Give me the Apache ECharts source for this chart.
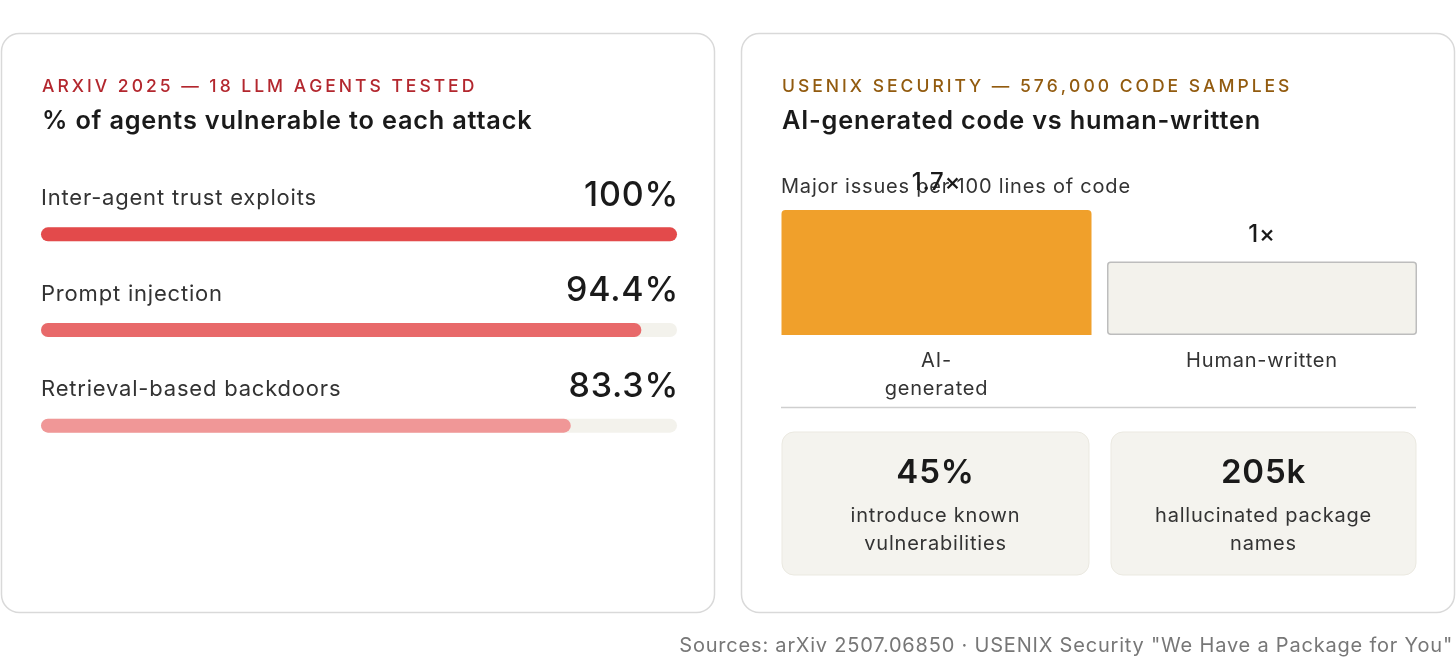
<!DOCTYPE html>
<html>
<head>
<meta charset="utf-8">
<script src="https://cdn.jsdelivr.net/npm/echarts@6/dist/echarts.min.js"></script>
<style>
html,body{margin:0;padding:0;background:#fff;}
#c{width:1456px;height:659px;}
</style>
</head>
<body>
<div id="c"></div>
<script>
// ---------- data ----------
const leftKicker = 'ARXIV 2025 — 18 LLM AGENTS TESTED';
const leftTitle = '% of agents vulnerable to each attack';
const attackNames = ['Inter-agent trust exploits', 'Prompt injection', 'Retrieval-based backdoors'];
const attackValues = [100, 94.4, 83.3];
const attackColors = ['#e34a4b', '#e8696a', '#f09797'];

const rightKicker = 'USENIX SECURITY — 576,000 CODE SAMPLES';
const rightTitle = 'AI-generated code vs human-written';
const rightSubtitle = 'Major issues per 100 lines of code';
const codeCategories = ['AI-generated', 'Human-written'];
const codeValues = [1.7, 1];

const statValues = ['45%', '205k'];
const statLabels = ['introduce known\nvulnerabilities', 'hallucinated package\nnames'];

const sourcesText = 'Sources: arXiv 2507.06850 · USENIX Security "We Have a Package for You"';

// ---------- helpers ----------
const FONT = 'Inter, "Noto Sans", sans-serif';
// slight tracking for all canvas text (system-font look)
(function () {
  const P = CanvasRenderingContext2D.prototype;
  const f = P.fillText;
  P.fillText = function () { try { this.letterSpacing = '0.8px'; } catch (e) {} return f.apply(this, arguments); };
})();
const mctx = document.createElement('canvas').getContext('2d');
function spacedText(text, x, y, size, weight, color, spacing) {
  const font = weight + ' ' + size + 'px ' + FONT;
  mctx.font = font;
  const children = [];
  let cx = x;
  for (const ch of text) {
    children.push({type: 'text', x: cx, y: y, style: {text: ch, font: font, fill: color, textVerticalAlign: 'middle'}});
    cx += mctx.measureText(ch).width + spacing;
  }
  return {type: 'group', children: children};
}

const chart = echarts.init(document.getElementById('c'), null, {renderer: 'canvas'});

const graphics = [
  {type: 'rect', shape: {x: 1.5, y: 33.5, width: 713, height: 579, r: 18}, style: {fill: '#fff', stroke: '#d9d9d9', lineWidth: 1.5}, z: -10},
  {type: 'rect', shape: {x: 741.5, y: 33.5, width: 713, height: 579, r: 18}, style: {fill: '#fff', stroke: '#d9d9d9', lineWidth: 1.5}, z: -10},
  spacedText(leftKicker, 42, 87, 17.5, 500, '#b3272e', 3.0),
  {type: 'text', x: 42, y: 121, style: {text: leftTitle, font: '600 25.3px ' + FONT, fill: '#1a1a1a', textVerticalAlign: 'middle'}},
  spacedText(rightKicker, 782, 87, 17.5, 500, '#925b0f', 3.0),
  {type: 'text', x: 782, y: 121, style: {text: rightTitle, font: '600 25.3px ' + FONT, fill: '#1a1a1a', textVerticalAlign: 'middle'}},
  {type: 'text', x: 781, y: 187, z: 1, style: {text: rightSubtitle, font: '400 20px ' + FONT, fill: '#333', textVerticalAlign: 'middle'}},
  {type: 'line', shape: {x1: 781, y1: 407.5, x2: 1416, y2: 407.5}, style: {stroke: '#cfcfcf', lineWidth: 1.5}},
  {type: 'text', x: 1453, y: 646, style: {text: sourcesText, font: '400 20px ' + FONT, fill: '#777', textAlign: 'right', textVerticalAlign: 'middle'}}
];
const boxX = [782, 1111];
const boxW = [307, 305];
statValues.forEach((v, i) => {
  graphics.push({type: 'rect', shape: {x: boxX[i], y: 432, width: boxW[i], height: 143, r: 12}, style: {fill: '#f4f3ee', stroke: '#ebe9e1', lineWidth: 1}});
  graphics.push({type: 'text', x: boxX[i] + boxW[i] / 2, y: 473, style: {text: v, font: '600 33px ' + FONT, fill: '#1a1a1a', textAlign: 'center', textVerticalAlign: 'middle'}});
  graphics.push({type: 'text', x: boxX[i] + boxW[i] / 2, y: 530, style: {text: statLabels[i], font: '400 20px ' + FONT, fill: '#333', textAlign: 'center', textVerticalAlign: 'middle', lineHeight: 28}});
});

const option = {
  animation: false,
  backgroundColor: '#fff',
  textStyle: {fontFamily: FONT},
  graphic: graphics,
  grid: [
    {left: 41, width: 636, top: 186.5, height: 287},
    {left: 773.75, width: 651, top: 210, height: 125}
  ],
  xAxis: [
    {gridIndex: 0, type: 'value', min: 0, max: 100, show: false},
    {gridIndex: 1, type: 'category', data: codeCategories,
     axisLine: {show: false}, axisTick: {show: false},
     axisLabel: {margin: 12, fontSize: 20, color: '#333', lineHeight: 28, fontFamily: FONT,
       formatter: v => v.replace('AI-', 'AI-\n')}}
  ],
  yAxis: [
    {gridIndex: 0, type: 'category', inverse: true, data: attackNames, show: false},
    {gridIndex: 1, type: 'value', min: 0, max: 1.7, show: false}
  ],
  series: [
    {
      type: 'bar', xAxisIndex: 0, yAxisIndex: 0, barWidth: 14, z: 1,
      data: attackValues.map(() => 100),
      itemStyle: {color: '#f3f2ec', borderRadius: 7},
      label: {show: true, position: [638, -32], align: 'right', verticalAlign: 'middle',
        formatter: p => attackValues[p.dataIndex] + '%', fontSize: 34, fontWeight: 500, color: '#1a1a1a', fontFamily: FONT},
      silent: true
    },
    {
      type: 'bar', xAxisIndex: 0, yAxisIndex: 0, barWidth: 14, barGap: '-100%', z: 2,
      data: attackValues.map((v, i) => ({value: v, itemStyle: {color: attackColors[i]}})),
      itemStyle: {borderRadius: 7},
      label: {show: true, position: [0, -29], align: 'left', verticalAlign: 'middle',
        formatter: p => p.name, fontSize: 22, color: '#333', fontFamily: FONT}
    },
    {
      type: 'bar', xAxisIndex: 1, yAxisIndex: 1, barWidth: 310, z: 3,
      data: codeValues.map((v, i) => ({
        value: v,
        itemStyle: i === 0 ? {color: '#f0a02b', borderRadius: [4, 4, 0, 0]}
                           : {color: '#f3f2ec', borderColor: '#bdbdbd', borderWidth: 1.5, borderRadius: 3}
      })),
      label: {show: true, position: 'top', distance: 15, formatter: p => p.value + '×',
        fontSize: 24, fontWeight: 500, color: '#1a1a1a', fontFamily: FONT}
    }
  ]
};
chart.setOption(option);
</script>
</body>
</html>
